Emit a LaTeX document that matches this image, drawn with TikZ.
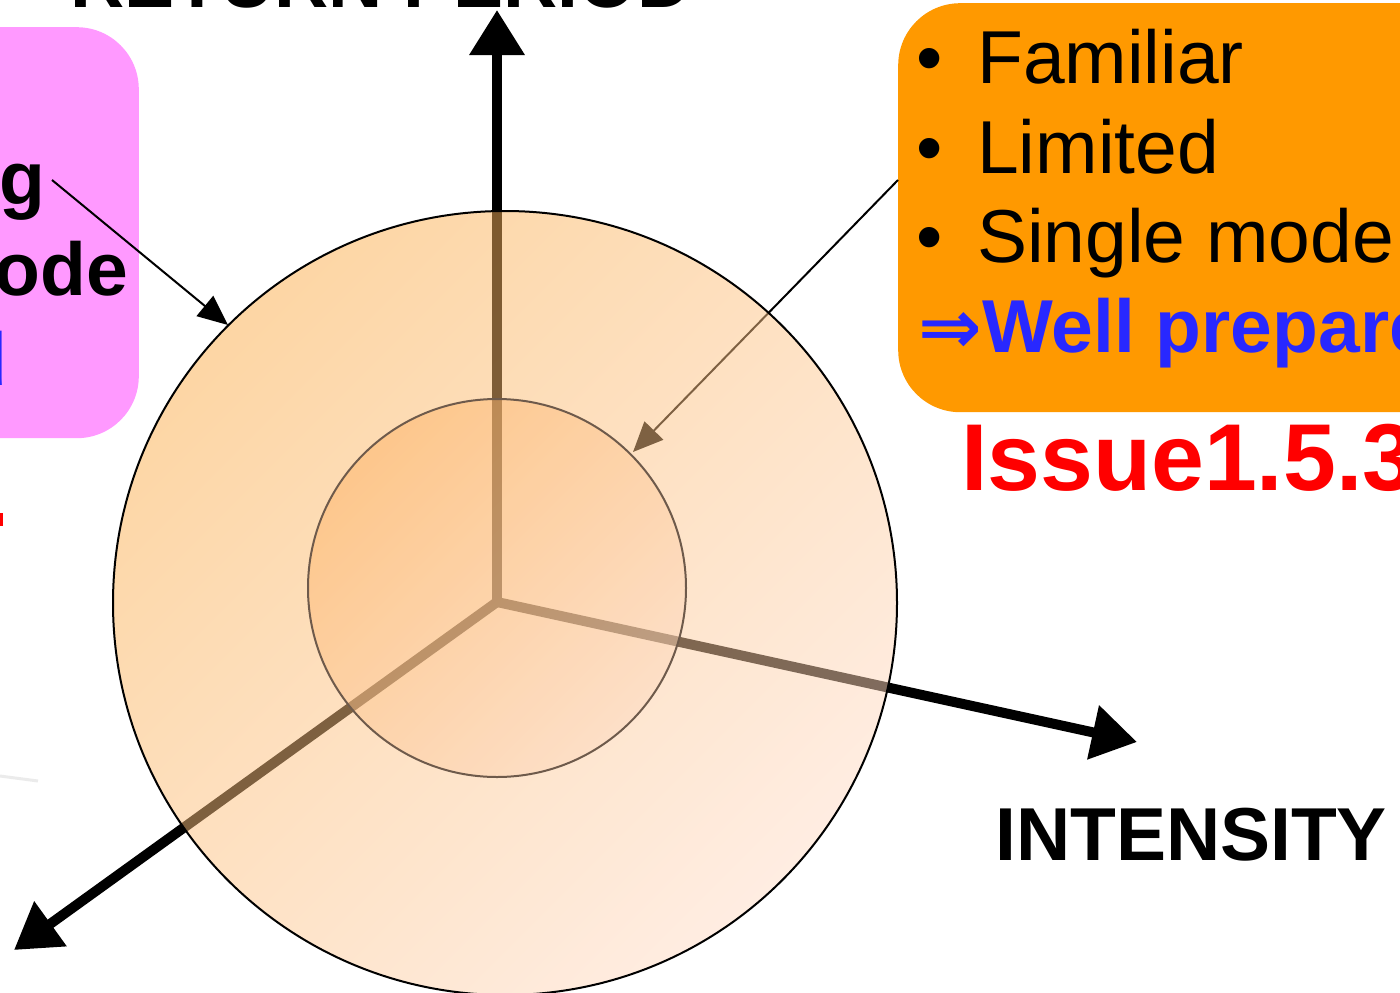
\documentclass[tikz,border=0pt]{standalone}
\usepackage{fontspec}
\setmainfont{Liberation Sans}
\newfontfamily\dejavu{DejaVu Sans}
\usetikzlibrary{arrows.meta}
\definecolor{pinkbox}{RGB}{255,153,255}
\definecolor{orangebox}{RGB}{255,153,0}
\definecolor{bluetxt}{RGB}{40,40,255}
\definecolor{outerA}{RGB}{251,173,74}
\definecolor{outerB}{RGB}{255,219,197}
\definecolor{innerA}{RGB}{253,179,102}
\definecolor{innerB}{RGB}{252,216,190}
\definecolor{innerline}{RGB}{110,90,75}
\definecolor{faint}{RGB}{235,235,235}
\begin{document}
\begin{tikzpicture}[x=1pt,y=-1pt,
  axisline/.style={line width=10pt, -{Triangle[length=45pt,width=53pt]}},
  callout/.style={line width=2pt, -{Triangle[length=30pt,width=26pt]}},
  txt/.style={inner sep=0pt, font=\fontsize{75}{90}\selectfont},
  boldtxt/.style={inner sep=0pt, font=\fontsize{75}{90}\selectfont\bfseries},
  rbox/.style={inner sep=0pt, rounded corners=62pt},
  ringshade/.style={circle, inner sep=0pt, fill opacity=0.5, line width=2pt}
]
\useasboundingbox (0,0) rectangle (1400,993);
\clip (0,0) rectangle (1400,993);

% axes
\coordinate (O) at (497,602);
\coordinate (Ytip) at (497,10);
\coordinate (Xtip) at (1137,742);
\coordinate (Ztip) at (14,950);
\draw[axisline] (O) -- (Ytip);
\draw[axisline] (O) -- (Xtip);
\draw[axisline] (O) -- (Ztip);

% boxes
\node[rbox, fill=pinkbox, minimum width=339pt, minimum height=411pt, anchor=north east] (pink) at (139,27) {};
\node[rbox, fill=orangebox, minimum width=700pt, minimum height=409pt, anchor=north west] (orange) at (898,3) {};

% callout from orange box (under the circles)
\coordinate (oStart) at (898,180);
\coordinate (oEnd) at (633,452);
\draw[callout] (oStart) -- (oEnd);

% circles
\node[ringshade, minimum size=784pt, top color=outerA, bottom color=outerB, shading angle=45, draw=black, draw opacity=1] (outer) at (505,603) {};
\node[ringshade, minimum size=378pt, top color=innerA, bottom color=innerB, shading angle=45, draw=innerline, draw opacity=1] (inner) at (497,588) {};

% callout from pink box
\coordinate (pStart) at (52,180);
\coordinate (pEnd) at (228,325);
\draw[callout] (pStart) -- (pEnd);

% faint mark at left
\coordinate (f1) at (0,776);
\coordinate (f2) at (38,781);
\draw[faint, line width=3pt] (f1) -- (f2);
% red mark at left
\fill[red] (0,513) rectangle (3,526);

% texts
\node[boldtxt, anchor=base] (ret) at (381,7) {RETURN PERIOD};
\node[boldtxt, anchor=base west] (int) at (995,860) {INTENSITY};

\node[boldtxt, anchor=base east] (pg) at (46,204) {g};
\node[boldtxt, anchor=base east] (pode) at (128,295) {ode};
\node[boldtxt, anchor=base east, text=bluetxt] (pd) at (8,385) {d};

\node[txt, anchor=base] (b1) at (930,83) {•};
\node[txt, anchor=base] (b2) at (930,173) {•};
\node[txt, anchor=base] (b3) at (930,262) {•};
\node[txt, anchor=base west] (t1) at (977,83) {Familiar};
\node[txt, anchor=base west] (t2) at (977,173) {Limited};
\node[txt, anchor=base west] (t3) at (977,262) {Single mode};
\node[inner sep=0pt, anchor=base, text=bluetxt, font=\fontsize{76}{90}\selectfont\dejavu\bfseries] (arr) at (950,353) {⇒};
\node[boldtxt, anchor=base west, text=bluetxt] (t4) at (982,352) {Well prepared};
\node[inner sep=0pt, anchor=base west, text=red, font=\fontsize{95}{110}\selectfont\bfseries] (iss) at (961,490) {Issue1.5.3};
\end{tikzpicture}
\end{document}
